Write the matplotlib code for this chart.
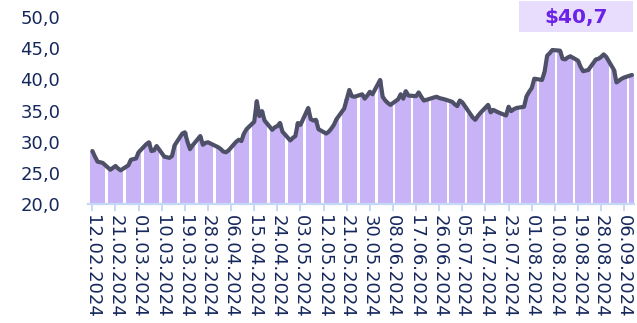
import matplotlib
matplotlib.use("Agg")
import matplotlib.pyplot as plt
import matplotlib.patches as mpatches
import pandas as pd

# ── Data (weekday closes, 12.02.2024 – 09.09.2024) ────────────────────────────
start_date = "2024-02-12"
end_date = "2024-09-09"
prices = [
    28.5, 27.6, 26.8, 26.7, 26.6,
    25.5, 25.8, 26.1, 25.7, 25.4,
    26.2, 27.1, 27.2, 27.3, 28.3,
    29.6, 29.9, 28.5, 28.6, 29.3,
    27.6, 27.5, 27.4, 27.7, 29.4,
    31.3, 31.5, 30.0, 28.8, 29.4,
    30.9, 29.5, 29.8, 29.9, 29.7,
    29.1, 28.8, 28.4, 28.3, 28.6,
    30.0, 30.3, 30.1, 31.3, 32.0,
    33.2, 36.5, 34.1, 34.9, 33.4,
    31.9, 32.3, 32.5, 33.0, 31.6,
    30.2, 30.6, 30.9, 33.0, 32.7,
    35.4, 33.6, 33.4, 33.5, 32.0,
    31.3, 31.6, 32.1, 32.7, 33.6,
    35.3, 36.8, 38.3, 37.3, 37.2,
    37.6, 36.9, 37.4, 38.0, 37.6,
    39.9, 37.2, 36.6, 36.2, 35.9,
    36.8, 37.6, 36.9, 38.1, 37.4,
    37.3, 37.9, 37.2, 36.6, 36.7,
    37.1, 37.2, 37.0, 36.9, 36.8,
    36.4, 36.0, 35.7, 36.6, 36.3,
    34.5, 33.9, 33.5, 34.1, 34.6,
    35.9, 34.7, 35.1, 34.9, 34.7,
    34.2, 35.6, 34.9, 35.2, 35.4,
    35.6, 37.3, 38.0, 38.6, 40.1,
    39.9, 41.2, 43.8, 44.2, 44.7,
    44.6, 43.3, 43.2, 43.5, 43.7,
    43.0, 42.0, 41.3, 41.4, 41.5,
    43.2, 43.3, 43.6, 44.0, 43.6,
    41.5, 39.5, 39.8, 40.1, 40.3,
    40.7,
]
tick_dates = pd.date_range(start_date, periods=24, freq="9D")
y_ticks = [20, 25, 30, 35, 40, 45, 50]
last_label = "$40,7"

dates = pd.bdate_range(start_date, end_date)

# ── Colours ───────────────────────────────────────────────────────────────────
C_FILL = "#c8b3f6"
C_LINE = "#4e5068"
C_AXIS = "#c6d8f7"
C_TEXT = "#15275c"
C_BOX = "#e9ddfd"
C_BOX_TXT = "#6a22e6"

fig = plt.figure(figsize=(6.37, 3.23), dpi=100)
fig.patch.set_facecolor("white")
ax = fig.add_axes([88 / 637, 1 - 204 / 323, (634 - 88) / 637, (204 - 17) / 323])

ax.bar(dates, prices, width=2.05, color=C_FILL, linewidth=0, zorder=2)
ax.plot(dates, prices, color=C_LINE, lw=3.0, solid_joinstyle="round",
        solid_capstyle="round", zorder=3)

ax.set_ylim(20, 50)
ax.set_xlim(pd.Timestamp(start_date) - pd.Timedelta(days=1.7),
            pd.Timestamp(end_date) + pd.Timedelta(days=0.8))

for side in ("top", "right", "left"):
    ax.spines[side].set_visible(False)
ax.spines["bottom"].set_color(C_AXIS)
ax.spines["bottom"].set_linewidth(1.6)

ax.set_yticks(y_ticks)
ax.set_yticklabels([f"{v:.1f}".replace(".", ",") for v in y_ticks],
                   fontsize=13, color=C_TEXT)
ax.tick_params(axis="y", length=0, pad=20)

ax.set_xticks(tick_dates)
ax.set_xticklabels([d.strftime("%d.%m.%Y") for d in tick_dates],
                   rotation=-90, fontsize=13, color=C_TEXT,
                   ha="center", va="top")
ax.tick_params(axis="x", length=5, width=1.4, color=C_AXIS, pad=3)

# ── Last value badge ─────────────────────────────────────────────────────────
badge = mpatches.Rectangle((519 / 637, 1 - 32 / 323), 114 / 637, 31 / 323,
                           transform=fig.transFigure, facecolor=C_BOX,
                           edgecolor="none", zorder=5)
fig.patches.append(badge)
fig.text(576 / 637, 1 - 17 / 323, last_label, fontsize=14.5, fontweight="bold",
         color=C_BOX_TXT, ha="center", va="center", zorder=6)

fig.savefig("out.png", dpi=100, facecolor="white")
